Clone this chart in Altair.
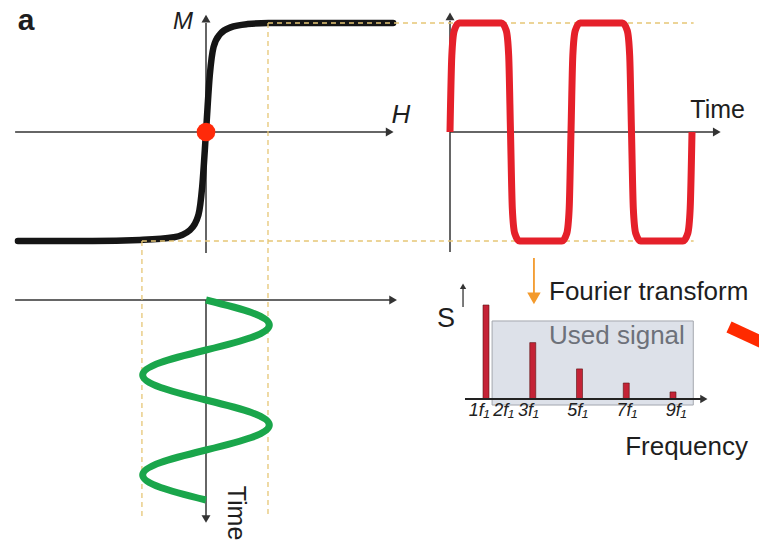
import altair as alt
import pandas as pd

# ---------------- data ----------------
# (a) magnetisation curve M(H), normalised units
H_curve = [-0.995, -0.60, -0.35, -0.17, -0.085, -0.04, -0.02, 0.0, 0.02, 0.04, 0.075, 0.13, 0.22, 0.33, 0.99]
M_curve = [-1.00, -1.00, -0.99, -0.965, -0.90, -0.76, -0.50, 0.0, 0.52, 0.78, 0.90, 0.96, 0.99, 1.00, 1.00]

# magnetisation response versus time (square-like wave)
wave_t = [0, 0.03, 0.07, 0.15, 0.85, 0.93, 0.97, 1.0, 1.03, 1.07, 1.15, 1.85, 1.93, 1.97,
          2.0, 2.03, 2.07, 2.15, 2.85, 2.93, 2.97, 3.0, 3.03, 3.07, 3.15, 3.85, 3.93, 3.97, 4.0]
wave_M = [0, 0.70, 0.93, 1.0, 1.0, 0.93, 0.70, 0, -0.70, -0.93, -1.0, -1.0, -0.93, -0.70,
          0, 0.70, 0.93, 1.0, 1.0, 0.93, 0.70, 0, -0.70, -0.93, -1.0, -1.0, -0.93, -0.70, 0]

# applied field versus time (sine drive), time runs downwards
drive_t = [0, 0.125, 0.25, 0.375, 0.5, 0.625, 0.75, 0.875, 1.0,
           1.125, 1.25, 1.375, 1.5, 1.625, 1.75, 1.875, 2.0]
drive_H = [0, 0.24, 0.335, 0.24, 0, -0.24, -0.335, -0.24, 0,
           0.24, 0.335, 0.24, 0, -0.24, -0.335, -0.24, 0]

# Fourier spectrum (odd harmonics)
harmonics = [1, 3, 5, 7, 9]
amplitudes = [1.0, 0.60, 0.32, 0.17, 0.075]
tick_n = [1, 2, 3, 5, 7, 9]
tick_labels = ["1f\u2081", "2f\u2081", "3f\u2081", "5f\u2081", "7f\u2081", "9f\u2081"]

# ---------------- styling ----------------
FONT = "Liberation Sans"
AX = "#333333"
GUIDE = "#e6c675"


def S(domain, rng):
    return alt.Scale(domain=domain, range=rng, nice=False, zero=False)


HX = S([-1, 1], [17, 395])     # field H
MY = S([-1, 1], [241, 23])     # magnetisation M
TX = S([0, 4], [450, 692])     # time (upper right)
TY = S([0, 2], [300, 500])     # time (lower left, downwards)
NX = S([1, 9], [481, 678])     # harmonic number
SY = S([0, 1], [399, 305])     # spectral amplitude S


def seg(x1, y1, x2, y2, xs, ys, color=AX, width=1.5, dash=None, cap="butt"):
    kw = dict(color=color, strokeWidth=width, strokeCap=cap)
    if dash:
        kw["strokeDash"] = dash
    df = pd.DataFrame({"x1": x1, "y1": y1, "x2": x2, "y2": y2})
    return alt.Chart(df).mark_rule(**kw).encode(
        x=alt.X("x1:Q", scale=xs, axis=None), x2="x2:Q",
        y=alt.Y("y1:Q", scale=ys, axis=None), y2="y2:Q")


def head(x, y, xs, ys, shape, color=AX, size=45):
    return alt.Chart(pd.DataFrame({"x": [x], "y": [y]})).mark_point(
        shape=shape, filled=True, size=size, color=color, opacity=1, strokeWidth=0
    ).encode(x=alt.X("x:Q", scale=xs, axis=None), y=alt.Y("y:Q", scale=ys, axis=None))


def label(txt, x, y, size=25, align="left", baseline="alphabetic", style="normal",
          weight="normal", color="#1e1e1e", angle=0):
    kw = dict(fontSize=size, align=align, baseline=baseline, fontStyle=style,
              fontWeight=weight, color=color, font=FONT)
    if angle:
        kw["angle"] = angle
    return alt.Chart(pd.DataFrame({"t": [txt]})).mark_text(**kw).encode(
        text="t:N", x=alt.value(x), y=alt.value(y))


layers = []

# ---- spectrum box (background) ----
layers.append(alt.Chart(pd.DataFrame({"a": [1.45], "b": [9.62], "c": [0.83], "d": [-0.064]}))
              .mark_rect(fill="#dde1e9", stroke="#a3a7ae", strokeWidth=1)
              .encode(x=alt.X("a:Q", scale=NX, axis=None), x2="b:Q",
                      y=alt.Y("c:Q", scale=SY, axis=None), y2="d:Q"))

# ---- axes ----
# hysteresis panel
layers.append(seg([-1.01], [0], [0.97], [0], HX, MY))
layers.append(head(0.972, 0, HX, MY, "triangle-right", size=80))
layers.append(seg([0], [-1.11], [0], [1.0], HX, MY))
layers.append(head(0, 1.04, HX, MY, "triangle-up", size=80))
# time-response panel
layers.append(seg([0], [-1.10], [0], [1.02], TX, MY))
layers.append(head(0, 1.06, TX, MY, "triangle-up", size=80))
layers.append(seg([0], [0], [4.4], [0], TX, MY))
layers.append(head(4.41, 0, TX, MY, "triangle-right", size=80))
# drive panel
layers.append(seg([-1.01], [0], [0.98], [0], HX, TY))
layers.append(head(0.99, 0, HX, TY, "triangle-right", size=80))
layers.append(seg([0], [0], [0], [2.18], HX, TY))
layers.append(head(0, 2.19, HX, TY, "triangle-down", size=80))

# ---- magnetisation curve ----
layers.append(alt.Chart(pd.DataFrame({"H": H_curve, "M": M_curve}))
              .mark_line(color="#151515", strokeWidth=6.5, interpolate="monotone", strokeCap="round")
              .encode(x=alt.X("H:Q", scale=HX, axis=None), y=alt.Y("M:Q", scale=MY, axis=None)))

# ---- dashed projection guides ----
layers.append(seg([0.328, -0.339], [1, -1], [2.58, 2.58], [1, -1], HX, MY,
                  color=GUIDE, width=1.3, dash=[5, 4]))
layers.append(seg([-0.339, 0.328], [-1, 1], [-0.339, 0.328], [-3.53, -3.53], HX, MY,
                  color=GUIDE, width=1.3, dash=[5, 4]))

# red working point
layers.append(head(0, 0, HX, MY, "circle", color="#ff2a0a", size=350))

# ---- square-like response ----
layers.append(alt.Chart(pd.DataFrame({"t": wave_t, "M": wave_M}))
              .mark_line(color="#e5202a", strokeWidth=7, interpolate="monotone", strokeJoin="round")
              .encode(x=alt.X("t:Q", scale=TX, axis=None), y=alt.Y("M:Q", scale=MY, axis=None)))

# ---- sine drive ----
layers.append(alt.Chart(pd.DataFrame({"t": drive_t, "H": drive_H}))
              .mark_line(color="#1aa64b", strokeWidth=7, interpolate="natural", strokeCap="butt")
              .encode(x=alt.X("H:Q", scale=HX, axis=None), y=alt.Y("t:Q", scale=TY, axis=None),
                      order="t:Q"))

# ---- spectrum ----
layers.append(alt.Chart(pd.DataFrame({"n": harmonics, "s": amplitudes}))
              .mark_bar(size=6, color="#c42336", stroke="#5a1010", strokeWidth=0.6)
              .encode(x=alt.X("n:Q", scale=NX, axis=None), y=alt.Y("s:Q", scale=SY, axis=None),
                      y2=alt.datum(0)))
layers.append(seg([0.35], [0], [10.0], [0], NX, SY, color="#222222", width=2.2))
layers.append(head(10.05, 0, NX, SY, "triangle-right", size=70))
layers.append(seg([0.27], [0.98], [0.27], [1.17], NX, SY, width=1.3))
layers.append(head(0.27, 1.2, NX, SY, "triangle-up", size=40))
# orange Fourier arrow
layers.append(seg([3.15], [1.5], [3.15], [1.1], NX, SY, color="#f39a2c", width=1.8))
layers.append(head(3.15, 1.07, NX, SY, "triangle-down", color="#f39a2c", size=180))

layers.append(alt.Chart(pd.DataFrame({"n": tick_n, "lab": tick_labels}))
              .mark_text(font=FONT, fontSize=18, fontStyle="italic", align="center",
                         baseline="alphabetic", color="#222222", dx=-2)
              .encode(x=alt.X("n:Q", scale=NX, axis=None), y=alt.value(416), text="lab:N"))

# ---- text ----
layers.append(label("a", 26, 30, size=30, align="center", weight="bold"))
layers.append(label("M", 183, 29, size=24, align="center", style="italic"))
layers.append(label("H", 401, 123, size=26, align="center", style="italic"))
layers.append(label("Time", 745, 118, size=25, align="right"))
layers.append(label("Time", 236, 513, size=25, align="center", baseline="middle", angle=90))
layers.append(label("Fourier transform", 549, 300, size=26))
layers.append(label("Used signal", 549, 344, size=26, color="#6d717a"))
layers.append(label("S", 446, 327, size=27, align="center"))
layers.append(label("Frequency", 748, 455, size=26, align="right"))

# red slash at the right edge
layers.append(alt.Chart(pd.DataFrame({"k": [0]})).mark_rule(color="#ff2a00", strokeWidth=12, strokeCap="butt")
              .encode(x=alt.value(729), x2=alt.value(785), y=alt.value(327), y2=alt.value(353)))

chart = (alt.layer(*layers)
         .resolve_scale(x="independent", y="independent")
         .properties(width=759, height=545, padding=0, autosize="none", background="white")
         .configure_view(stroke=None))

chart.save("out.html", embed_options={"renderer": "svg", "actions": False})
